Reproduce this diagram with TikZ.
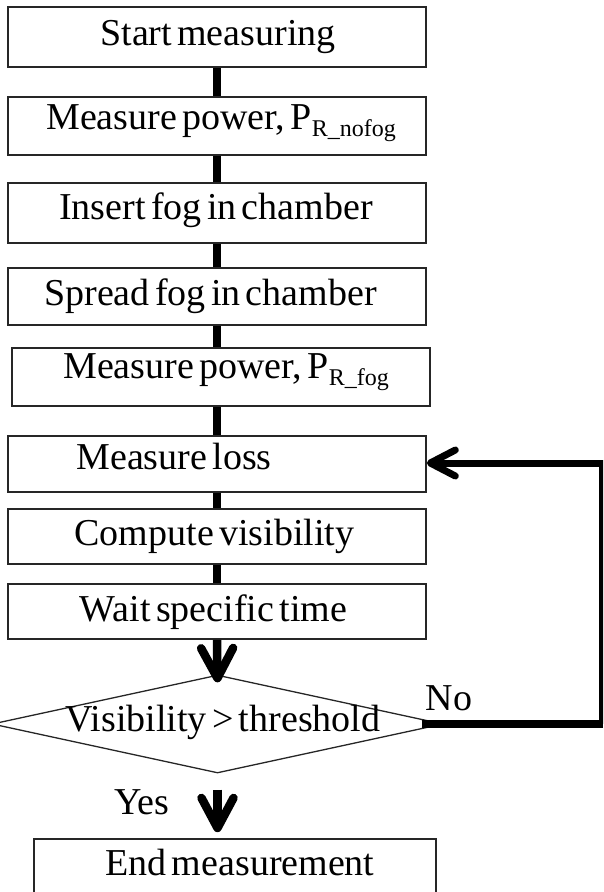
\documentclass[tikz,border=0pt]{standalone}
\usepackage{fontspec}
\setmainfont{Liberation Serif}
\usetikzlibrary{shapes.geometric,arrows.meta}
\newcommand\subx[1]{\raisebox{-7.5pt}{\fontsize{24}{26}\selectfont #1}}
\newcommand\tightfont{\fontsize{38}{42}\selectfont\spaceskip=0.14em\relax}
\begin{document}
\begin{tikzpicture}[x=1pt,y=-1pt,
  box/.style={draw=black!85, line width=1.6pt, inner sep=0pt, minimum width=418pt},
  txt/.style={anchor=base, inner sep=0pt, font=\tightfont},
  link/.style={line width=8.5pt},
  downarr/.style={line width=8.5pt, -{Straight Barb[length=30pt,width=32pt,round]}},
  looparr/.style={line width=7pt, line join=miter, -{Straight Barb[length=25pt,width=26pt,round]}}]
\clip (0,0) rectangle (603,892);
% boxes
\node[box, minimum height=60pt] (b1) at (217,37) {};
\node[box, minimum height=58pt] (b2) at (217,126) {};
\node[box, minimum height=60pt] (b3) at (217,213) {};
\node[box, minimum height=57pt] (b4) at (217,296.5) {};
\node[box, minimum height=58pt] (b5) at (221,377) {};
\node[box, minimum height=56pt] (b6) at (217,464) {};
\node[box, minimum height=55pt] (b7) at (217,536.5) {};
\node[box, minimum height=55pt] (b8) at (217,611.5) {};
\node[diamond, draw=black!85, line width=1.3pt, inner sep=0pt,
      minimum width=451pt, minimum height=98pt] (dia) at (217.5,724) {};
\node[box, minimum width=402pt, minimum height=58pt] (b9) at (235,868) {};
% texts
\node[txt] (t1) at (218,45.5) {Start measuring};
\node[txt] (t2) at (221,129) {Measure power, P\subx{R\_nofog}};
\node[txt] (t3) at (216,219.5) {Insert fog in chamber};
\node[txt] (t4) at (210.5,305) {Spread fog in chamber};
\node[txt] (t5) at (226,378) {Measure power, P\subx{R\_fog}};
\node[txt] (t6) at (174,469) {Measure loss};
\node[txt] (t7) at (214.5,545) {Compute visibility};
\node[txt] (t8) at (213.5,621.5) {Wait specific time};
\node[txt] (td) at (223,731.5) {Visibility > threshold};
\node[txt] (tno) at (449,710) {No};
\node[txt] (tyes) at (142,814) {Yes};
\node[txt] (t9) at (240,875.5) {End measurement};
% connectors
\draw[link] (b1.south) -- (b2.north);
\draw[link] (b2.south) -- (b3.north);
\draw[link] (b3.south) -- (b4.north);
\draw[link] (b4.south) -- (b4.south |- b5.north);
\draw[link] (b4.south |- b5.south) -- (b6.north);
\draw[link] (b6.south) -- (b7.north);
\draw[link] (b7.south) -- (b8.north);
\draw[downarr] (b8.south) -- ([yshift=-8pt]dia.north);
\coordinate (yb) at ([yshift=6pt]b9.north);
\draw[downarr] ([yshift=-16pt]dia.south) -- (dia.south |- yb);
\coordinate (rx) at (602.5,463);
\draw[line width=8pt] ([xshift=-22pt]dia.east) -- (dia.east -| rx);
\draw[looparr] (dia.east -| rx) -- (rx) -- (rx -| b6.east);
\end{tikzpicture}
\end{document}
